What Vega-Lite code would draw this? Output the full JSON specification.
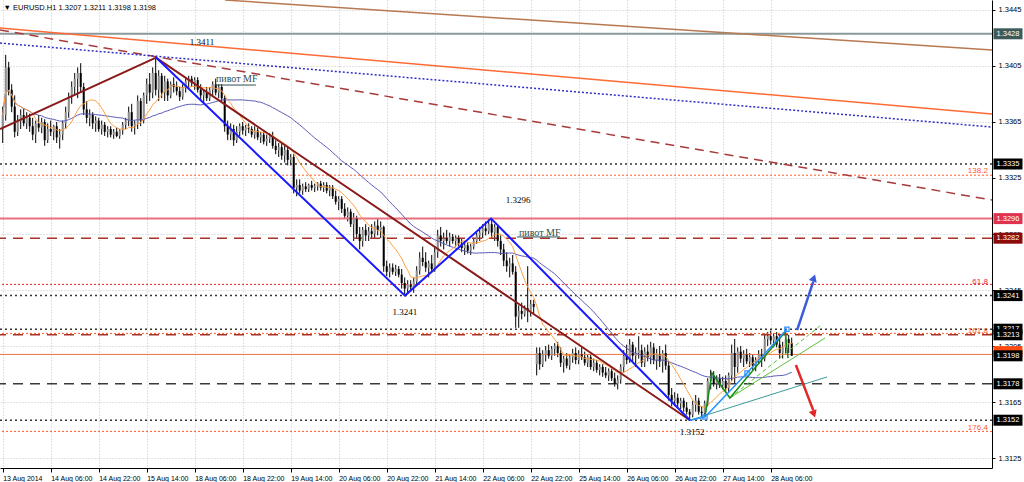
{
"$schema": "https://vega.github.io/schema/vega-lite/v6.json",
"width": 992, "height": 468,
"autosize": {"type": "none"},
"padding": {"left": 0, "top": 0, "right": 32, "bottom": 14},
"background": "white",
"view": {"stroke": null},
"config": {"font": "Liberation Sans"},
"datasets": {
"candles": [
{"i":0,"o":1.3360,"h":1.3376,"l":1.3350,"c":1.3370},
{"i":1,"o":1.3370,"h":1.3413,"l":1.3366,"c":1.3404},
{"i":2,"o":1.3404,"h":1.3408,"l":1.3384,"c":1.3388},
{"i":3,"o":1.3388,"h":1.3392,"l":1.3372,"c":1.3376},
{"i":4,"o":1.3376,"h":1.3384,"l":1.3354,"c":1.3358},
{"i":5,"o":1.3358,"h":1.3370,"l":1.3355,"c":1.3366},
{"i":6,"o":1.3366,"h":1.3374,"l":1.3360,"c":1.3370},
{"i":7,"o":1.3370,"h":1.3375,"l":1.3362,"c":1.3364},
{"i":8,"o":1.3364,"h":1.3372,"l":1.3360,"c":1.3368},
{"i":9,"o":1.3368,"h":1.3371,"l":1.3358,"c":1.3362},
{"i":10,"o":1.3362,"h":1.3368,"l":1.3352,"c":1.3356},
{"i":11,"o":1.3356,"h":1.3366,"l":1.3350,"c":1.3364},
{"i":12,"o":1.3364,"h":1.3370,"l":1.3358,"c":1.3361},
{"i":13,"o":1.3361,"h":1.3368,"l":1.3357,"c":1.3365},
{"i":14,"o":1.3365,"h":1.3367,"l":1.3348,"c":1.3352},
{"i":15,"o":1.3352,"h":1.3364,"l":1.3350,"c":1.3360},
{"i":16,"o":1.3360,"h":1.3366,"l":1.3355,"c":1.3358},
{"i":17,"o":1.3358,"h":1.3363,"l":1.3352,"c":1.3362},
{"i":18,"o":1.3362,"h":1.3365,"l":1.3350,"c":1.3354},
{"i":19,"o":1.3354,"h":1.3360,"l":1.3346,"c":1.3356},
{"i":20,"o":1.3356,"h":1.3366,"l":1.3352,"c":1.3364},
{"i":21,"o":1.3364,"h":1.3376,"l":1.3360,"c":1.3372},
{"i":22,"o":1.3372,"h":1.3386,"l":1.3368,"c":1.3383},
{"i":23,"o":1.3383,"h":1.3394,"l":1.3378,"c":1.3390},
{"i":24,"o":1.3390,"h":1.3400,"l":1.3384,"c":1.3396},
{"i":25,"o":1.3396,"h":1.3404,"l":1.3382,"c":1.3400},
{"i":26,"o":1.3400,"h":1.3407,"l":1.3386,"c":1.3390},
{"i":27,"o":1.3390,"h":1.3393,"l":1.3370,"c":1.3374},
{"i":28,"o":1.3374,"h":1.3380,"l":1.3364,"c":1.3368},
{"i":29,"o":1.3368,"h":1.3374,"l":1.3362,"c":1.3370},
{"i":30,"o":1.3370,"h":1.3372,"l":1.3360,"c":1.3364},
{"i":31,"o":1.3364,"h":1.3369,"l":1.3358,"c":1.3366},
{"i":32,"o":1.3366,"h":1.3368,"l":1.3358,"c":1.3360},
{"i":33,"o":1.3360,"h":1.3366,"l":1.3356,"c":1.3363},
{"i":34,"o":1.3363,"h":1.3365,"l":1.3355,"c":1.3358},
{"i":35,"o":1.3358,"h":1.3362,"l":1.3354,"c":1.3360},
{"i":36,"o":1.3360,"h":1.3362,"l":1.3354,"c":1.3356},
{"i":37,"o":1.3356,"h":1.3360,"l":1.3353,"c":1.3358},
{"i":38,"o":1.3358,"h":1.3361,"l":1.3354,"c":1.3355},
{"i":39,"o":1.3355,"h":1.3360,"l":1.3353,"c":1.3359},
{"i":40,"o":1.3359,"h":1.3365,"l":1.3356,"c":1.3363},
{"i":41,"o":1.3363,"h":1.3368,"l":1.3360,"c":1.3366},
{"i":42,"o":1.3366,"h":1.3376,"l":1.3362,"c":1.3372},
{"i":43,"o":1.3372,"h":1.3378,"l":1.3358,"c":1.3362},
{"i":44,"o":1.3362,"h":1.3366,"l":1.3356,"c":1.3364},
{"i":45,"o":1.3364,"h":1.3384,"l":1.3360,"c":1.3380},
{"i":46,"o":1.3380,"h":1.3382,"l":1.3362,"c":1.3366},
{"i":47,"o":1.3366,"h":1.3386,"l":1.3364,"c":1.3384},
{"i":48,"o":1.3384,"h":1.3396,"l":1.3378,"c":1.3392},
{"i":49,"o":1.3392,"h":1.3400,"l":1.3380,"c":1.3386},
{"i":50,"o":1.3386,"h":1.3404,"l":1.3382,"c":1.3400},
{"i":51,"o":1.3400,"h":1.3411,"l":1.3384,"c":1.3388},
{"i":52,"o":1.3388,"h":1.3402,"l":1.3380,"c":1.3398},
{"i":53,"o":1.3398,"h":1.3400,"l":1.3382,"c":1.3386},
{"i":54,"o":1.3386,"h":1.3398,"l":1.3380,"c":1.3394},
{"i":55,"o":1.3394,"h":1.3396,"l":1.3380,"c":1.3384},
{"i":56,"o":1.3384,"h":1.3394,"l":1.3382,"c":1.3392},
{"i":57,"o":1.3392,"h":1.3397,"l":1.3386,"c":1.3390},
{"i":58,"o":1.3390,"h":1.3394,"l":1.3384,"c":1.3387},
{"i":59,"o":1.3387,"h":1.3390,"l":1.3380,"c":1.3383},
{"i":60,"o":1.3383,"h":1.3392,"l":1.3381,"c":1.3390},
{"i":61,"o":1.3390,"h":1.3396,"l":1.3386,"c":1.3394},
{"i":62,"o":1.3394,"h":1.3398,"l":1.3389,"c":1.3396},
{"i":63,"o":1.3396,"h":1.3398,"l":1.3390,"c":1.3393},
{"i":64,"o":1.3393,"h":1.3397,"l":1.3388,"c":1.3395},
{"i":65,"o":1.3395,"h":1.3397,"l":1.3386,"c":1.3388},
{"i":66,"o":1.3388,"h":1.3392,"l":1.3380,"c":1.3384},
{"i":67,"o":1.3384,"h":1.3388,"l":1.3378,"c":1.3386},
{"i":68,"o":1.3386,"h":1.3390,"l":1.3380,"c":1.3382},
{"i":69,"o":1.3382,"h":1.3390,"l":1.3380,"c":1.3388},
{"i":70,"o":1.3388,"h":1.3394,"l":1.3384,"c":1.3392},
{"i":71,"o":1.3392,"h":1.3396,"l":1.3384,"c":1.3386},
{"i":72,"o":1.3386,"h":1.3392,"l":1.3382,"c":1.3390},
{"i":73,"o":1.3390,"h":1.3392,"l":1.3380,"c":1.3382},
{"i":74,"o":1.3382,"h":1.3384,"l":1.3358,"c":1.3362},
{"i":75,"o":1.3362,"h":1.3366,"l":1.3352,"c":1.3356},
{"i":76,"o":1.3356,"h":1.3364,"l":1.3352,"c":1.3360},
{"i":77,"o":1.3360,"h":1.3363,"l":1.3348,"c":1.3352},
{"i":78,"o":1.3352,"h":1.3362,"l":1.3350,"c":1.3358},
{"i":79,"o":1.3358,"h":1.3364,"l":1.3355,"c":1.3362},
{"i":80,"o":1.3362,"h":1.3365,"l":1.3356,"c":1.3359},
{"i":81,"o":1.3359,"h":1.3363,"l":1.3355,"c":1.3361},
{"i":82,"o":1.3361,"h":1.3364,"l":1.3357,"c":1.3360},
{"i":83,"o":1.3360,"h":1.3362,"l":1.3354,"c":1.3356},
{"i":84,"o":1.3356,"h":1.3362,"l":1.3353,"c":1.3359},
{"i":85,"o":1.3359,"h":1.3361,"l":1.3352,"c":1.3354},
{"i":86,"o":1.3354,"h":1.3358,"l":1.3350,"c":1.3356},
{"i":87,"o":1.3356,"h":1.3358,"l":1.3349,"c":1.3351},
{"i":88,"o":1.3351,"h":1.3356,"l":1.3348,"c":1.3353},
{"i":89,"o":1.3353,"h":1.3357,"l":1.3350,"c":1.3355},
{"i":90,"o":1.3355,"h":1.3358,"l":1.3346,"c":1.3348},
{"i":91,"o":1.3348,"h":1.3352,"l":1.3342,"c":1.3345},
{"i":92,"o":1.3345,"h":1.3350,"l":1.3340,"c":1.3347},
{"i":93,"o":1.3347,"h":1.3350,"l":1.3338,"c":1.3341},
{"i":94,"o":1.3341,"h":1.3348,"l":1.3336,"c":1.3345},
{"i":95,"o":1.3345,"h":1.3347,"l":1.3334,"c":1.3338},
{"i":96,"o":1.3338,"h":1.3342,"l":1.3334,"c":1.3340},
{"i":97,"o":1.3340,"h":1.3342,"l":1.3314,"c":1.3318},
{"i":98,"o":1.3318,"h":1.3324,"l":1.3312,"c":1.3320},
{"i":99,"o":1.3320,"h":1.3324,"l":1.3314,"c":1.3316},
{"i":100,"o":1.3316,"h":1.3321,"l":1.3313,"c":1.3319},
{"i":101,"o":1.3319,"h":1.3322,"l":1.3315,"c":1.3317},
{"i":102,"o":1.3317,"h":1.3321,"l":1.3315,"c":1.3320},
{"i":103,"o":1.3320,"h":1.3323,"l":1.3316,"c":1.3318},
{"i":104,"o":1.3318,"h":1.3321,"l":1.3315,"c":1.3319},
{"i":105,"o":1.3319,"h":1.3322,"l":1.3316,"c":1.3321},
{"i":106,"o":1.3321,"h":1.3323,"l":1.3316,"c":1.3318},
{"i":107,"o":1.3318,"h":1.3322,"l":1.3315,"c":1.3320},
{"i":108,"o":1.3320,"h":1.3322,"l":1.3314,"c":1.3316},
{"i":109,"o":1.3316,"h":1.3320,"l":1.3312,"c":1.3318},
{"i":110,"o":1.3318,"h":1.3320,"l":1.3310,"c":1.3312},
{"i":111,"o":1.3312,"h":1.3316,"l":1.3306,"c":1.3308},
{"i":112,"o":1.3308,"h":1.3312,"l":1.3302,"c":1.3310},
{"i":113,"o":1.3310,"h":1.3312,"l":1.3300,"c":1.3303},
{"i":114,"o":1.3303,"h":1.3307,"l":1.3296,"c":1.3298},
{"i":115,"o":1.3298,"h":1.3304,"l":1.3294,"c":1.3301},
{"i":116,"o":1.3301,"h":1.3303,"l":1.3290,"c":1.3292},
{"i":117,"o":1.3292,"h":1.3300,"l":1.3280,"c":1.3296},
{"i":118,"o":1.3296,"h":1.3298,"l":1.3282,"c":1.3285},
{"i":119,"o":1.3285,"h":1.3290,"l":1.3274,"c":1.3280},
{"i":120,"o":1.3280,"h":1.3290,"l":1.3276,"c":1.3288},
{"i":121,"o":1.3288,"h":1.3292,"l":1.3280,"c":1.3284},
{"i":122,"o":1.3284,"h":1.3290,"l":1.3280,"c":1.3287},
{"i":123,"o":1.3287,"h":1.3292,"l":1.3282,"c":1.3285},
{"i":124,"o":1.3285,"h":1.3294,"l":1.3282,"c":1.3291},
{"i":125,"o":1.3291,"h":1.3296,"l":1.3284,"c":1.3288},
{"i":126,"o":1.3288,"h":1.3294,"l":1.3282,"c":1.3290},
{"i":127,"o":1.3290,"h":1.3291,"l":1.3258,"c":1.3262},
{"i":128,"o":1.3262,"h":1.3266,"l":1.3255,"c":1.3258},
{"i":129,"o":1.3258,"h":1.3264,"l":1.3254,"c":1.3261},
{"i":130,"o":1.3261,"h":1.3264,"l":1.3256,"c":1.3258},
{"i":131,"o":1.3258,"h":1.3263,"l":1.3255,"c":1.3260},
{"i":132,"o":1.3260,"h":1.3262,"l":1.3254,"c":1.3256},
{"i":133,"o":1.3256,"h":1.3260,"l":1.3246,"c":1.3250},
{"i":134,"o":1.3250,"h":1.3254,"l":1.3241,"c":1.3246},
{"i":135,"o":1.3246,"h":1.3252,"l":1.3242,"c":1.3249},
{"i":136,"o":1.3249,"h":1.3252,"l":1.3244,"c":1.3247},
{"i":137,"o":1.3247,"h":1.3254,"l":1.3243,"c":1.3251},
{"i":138,"o":1.3251,"h":1.3262,"l":1.3248,"c":1.3259},
{"i":139,"o":1.3259,"h":1.3272,"l":1.3256,"c":1.3268},
{"i":140,"o":1.3268,"h":1.3276,"l":1.3262,"c":1.3265},
{"i":141,"o":1.3265,"h":1.3272,"l":1.3258,"c":1.3261},
{"i":142,"o":1.3261,"h":1.3266,"l":1.3254,"c":1.3264},
{"i":143,"o":1.3264,"h":1.3270,"l":1.3258,"c":1.3260},
{"i":144,"o":1.3260,"h":1.3276,"l":1.3258,"c":1.3272},
{"i":145,"o":1.3272,"h":1.3288,"l":1.3268,"c":1.3284},
{"i":146,"o":1.3284,"h":1.3290,"l":1.3276,"c":1.3280},
{"i":147,"o":1.3280,"h":1.3286,"l":1.3274,"c":1.3282},
{"i":148,"o":1.3282,"h":1.3288,"l":1.3278,"c":1.3280},
{"i":149,"o":1.3280,"h":1.3286,"l":1.3276,"c":1.3283},
{"i":150,"o":1.3283,"h":1.3285,"l":1.3278,"c":1.3280},
{"i":151,"o":1.3280,"h":1.3284,"l":1.3276,"c":1.3282},
{"i":152,"o":1.3282,"h":1.3284,"l":1.3276,"c":1.3278},
{"i":153,"o":1.3278,"h":1.3282,"l":1.3272,"c":1.3275},
{"i":154,"o":1.3275,"h":1.3280,"l":1.3270,"c":1.3277},
{"i":155,"o":1.3277,"h":1.3279,"l":1.3271,"c":1.3273},
{"i":156,"o":1.3273,"h":1.3278,"l":1.3270,"c":1.3276},
{"i":157,"o":1.3276,"h":1.3282,"l":1.3274,"c":1.3280},
{"i":158,"o":1.3280,"h":1.3286,"l":1.3278,"c":1.3284},
{"i":159,"o":1.3284,"h":1.3290,"l":1.3280,"c":1.3286},
{"i":160,"o":1.3286,"h":1.3292,"l":1.3282,"c":1.3289},
{"i":161,"o":1.3289,"h":1.3294,"l":1.3284,"c":1.3287},
{"i":162,"o":1.3287,"h":1.3296,"l":1.3285,"c":1.3292},
{"i":163,"o":1.3292,"h":1.3296,"l":1.3282,"c":1.3286},
{"i":164,"o":1.3286,"h":1.3292,"l":1.3280,"c":1.3290},
{"i":165,"o":1.3290,"h":1.3292,"l":1.3276,"c":1.3280},
{"i":166,"o":1.3280,"h":1.3284,"l":1.3270,"c":1.3274},
{"i":167,"o":1.3274,"h":1.3278,"l":1.3262,"c":1.3266},
{"i":168,"o":1.3266,"h":1.3272,"l":1.3258,"c":1.3262},
{"i":169,"o":1.3262,"h":1.3268,"l":1.3254,"c":1.3264},
{"i":170,"o":1.3264,"h":1.3270,"l":1.3256,"c":1.3258},
{"i":171,"o":1.3258,"h":1.3262,"l":1.3218,"c":1.3226},
{"i":172,"o":1.3226,"h":1.3234,"l":1.3218,"c":1.3230},
{"i":173,"o":1.3230,"h":1.3236,"l":1.3224,"c":1.3228},
{"i":174,"o":1.3228,"h":1.3234,"l":1.3226,"c":1.3232},
{"i":175,"o":1.3232,"h":1.3262,"l":1.3222,"c":1.3230},
{"i":176,"o":1.3230,"h":1.3238,"l":1.3226,"c":1.3235},
{"i":177,"o":1.3235,"h":1.3238,"l":1.3228,"c":1.3233},
{"i":178,"o":1.3192,"h":1.3204,"l":1.3184,"c":1.3200},
{"i":179,"o":1.3200,"h":1.3204,"l":1.3188,"c":1.3192},
{"i":180,"o":1.3192,"h":1.3202,"l":1.3190,"c":1.3199},
{"i":181,"o":1.3199,"h":1.3205,"l":1.3194,"c":1.3202},
{"i":182,"o":1.3202,"h":1.3206,"l":1.3196,"c":1.3198},
{"i":183,"o":1.3198,"h":1.3205,"l":1.3195,"c":1.3203},
{"i":184,"o":1.3203,"h":1.3207,"l":1.3198,"c":1.3205},
{"i":185,"o":1.3205,"h":1.3208,"l":1.3197,"c":1.3200},
{"i":186,"o":1.3200,"h":1.3204,"l":1.3190,"c":1.3193},
{"i":187,"o":1.3193,"h":1.3198,"l":1.3186,"c":1.3196},
{"i":188,"o":1.3196,"h":1.3200,"l":1.3189,"c":1.3191},
{"i":189,"o":1.3191,"h":1.3199,"l":1.3188,"c":1.3197},
{"i":190,"o":1.3197,"h":1.3203,"l":1.3193,"c":1.3200},
{"i":191,"o":1.3200,"h":1.3204,"l":1.3192,"c":1.3195},
{"i":192,"o":1.3195,"h":1.3202,"l":1.3192,"c":1.3199},
{"i":193,"o":1.3199,"h":1.3204,"l":1.3195,"c":1.3197},
{"i":194,"o":1.3197,"h":1.3201,"l":1.3191,"c":1.3193},
{"i":195,"o":1.3193,"h":1.3199,"l":1.3190,"c":1.3197},
{"i":196,"o":1.3197,"h":1.3199,"l":1.3188,"c":1.3190},
{"i":197,"o":1.3190,"h":1.3196,"l":1.3187,"c":1.3193},
{"i":198,"o":1.3193,"h":1.3195,"l":1.3186,"c":1.3188},
{"i":199,"o":1.3188,"h":1.3192,"l":1.3184,"c":1.3190},
{"i":200,"o":1.3190,"h":1.3192,"l":1.3183,"c":1.3186},
{"i":201,"o":1.3186,"h":1.3190,"l":1.3182,"c":1.3184},
{"i":202,"o":1.3184,"h":1.3189,"l":1.3180,"c":1.3187},
{"i":203,"o":1.3187,"h":1.3189,"l":1.3180,"c":1.3182},
{"i":204,"o":1.3182,"h":1.3186,"l":1.3176,"c":1.3178},
{"i":205,"o":1.3178,"h":1.3184,"l":1.3174,"c":1.3181},
{"i":206,"o":1.3181,"h":1.3192,"l":1.3178,"c":1.3190},
{"i":207,"o":1.3190,"h":1.3202,"l":1.3186,"c":1.3198},
{"i":208,"o":1.3198,"h":1.3206,"l":1.3192,"c":1.3195},
{"i":209,"o":1.3195,"h":1.3210,"l":1.3193,"c":1.3206},
{"i":210,"o":1.3206,"h":1.3208,"l":1.3194,"c":1.3198},
{"i":211,"o":1.3198,"h":1.3204,"l":1.3190,"c":1.3200},
{"i":212,"o":1.3200,"h":1.3212,"l":1.3196,"c":1.3202},
{"i":213,"o":1.3202,"h":1.3206,"l":1.3190,"c":1.3193},
{"i":214,"o":1.3193,"h":1.3204,"l":1.3190,"c":1.3201},
{"i":215,"o":1.3201,"h":1.3206,"l":1.3194,"c":1.3197},
{"i":216,"o":1.3197,"h":1.3208,"l":1.3192,"c":1.3204},
{"i":217,"o":1.3204,"h":1.3207,"l":1.3192,"c":1.3195},
{"i":218,"o":1.3195,"h":1.3203,"l":1.3188,"c":1.3199},
{"i":219,"o":1.3199,"h":1.3205,"l":1.3190,"c":1.3194},
{"i":220,"o":1.3194,"h":1.3202,"l":1.3186,"c":1.3200},
{"i":221,"o":1.3200,"h":1.3206,"l":1.3188,"c":1.3191},
{"i":222,"o":1.3191,"h":1.3194,"l":1.3166,"c":1.3170},
{"i":223,"o":1.3170,"h":1.3175,"l":1.3162,"c":1.3166},
{"i":224,"o":1.3166,"h":1.3172,"l":1.3162,"c":1.3168},
{"i":225,"o":1.3168,"h":1.3171,"l":1.3161,"c":1.3164},
{"i":226,"o":1.3164,"h":1.3168,"l":1.3160,"c":1.3166},
{"i":227,"o":1.3166,"h":1.3168,"l":1.3158,"c":1.3161},
{"i":228,"o":1.3161,"h":1.3165,"l":1.3156,"c":1.3158},
{"i":229,"o":1.3158,"h":1.3160,"l":1.3152,"c":1.3156},
{"i":230,"o":1.3156,"h":1.3166,"l":1.3154,"c":1.3163},
{"i":231,"o":1.3163,"h":1.3170,"l":1.3158,"c":1.3166},
{"i":232,"o":1.3166,"h":1.3168,"l":1.3156,"c":1.3158},
{"i":233,"o":1.3158,"h":1.3162,"l":1.3154,"c":1.3157},
{"i":234,"o":1.3157,"h":1.3166,"l":1.3155,"c":1.3164},
{"i":235,"o":1.3164,"h":1.3182,"l":1.3162,"c":1.3180},
{"i":236,"o":1.3180,"h":1.3188,"l":1.3174,"c":1.3184},
{"i":237,"o":1.3184,"h":1.3187,"l":1.3176,"c":1.3178},
{"i":238,"o":1.3178,"h":1.3184,"l":1.3174,"c":1.3182},
{"i":239,"o":1.3182,"h":1.3185,"l":1.3175,"c":1.3177},
{"i":240,"o":1.3177,"h":1.3183,"l":1.3174,"c":1.3180},
{"i":241,"o":1.3180,"h":1.3184,"l":1.3172,"c":1.3175},
{"i":242,"o":1.3175,"h":1.3186,"l":1.3172,"c":1.3184},
{"i":243,"o":1.3184,"h":1.3206,"l":1.3180,"c":1.3200},
{"i":244,"o":1.3200,"h":1.3210,"l":1.3178,"c":1.3190},
{"i":245,"o":1.3190,"h":1.3204,"l":1.3186,"c":1.3201},
{"i":246,"o":1.3201,"h":1.3205,"l":1.3193,"c":1.3196},
{"i":247,"o":1.3196,"h":1.3202,"l":1.3190,"c":1.3199},
{"i":248,"o":1.3199,"h":1.3203,"l":1.3192,"c":1.3194},
{"i":249,"o":1.3194,"h":1.3200,"l":1.3190,"c":1.3197},
{"i":250,"o":1.3197,"h":1.3199,"l":1.3188,"c":1.3191},
{"i":251,"o":1.3191,"h":1.3197,"l":1.3187,"c":1.3195},
{"i":252,"o":1.3195,"h":1.3202,"l":1.3192,"c":1.3199},
{"i":253,"o":1.3199,"h":1.3203,"l":1.3190,"c":1.3196},
{"i":254,"o":1.3196,"h":1.3214,"l":1.3194,"c":1.3210},
{"i":255,"o":1.3210,"h":1.3215,"l":1.3205,"c":1.3212},
{"i":256,"o":1.3212,"h":1.3216,"l":1.3206,"c":1.3209},
{"i":257,"o":1.3209,"h":1.3214,"l":1.3204,"c":1.3212},
{"i":258,"o":1.3212,"h":1.3215,"l":1.3204,"c":1.3206},
{"i":259,"o":1.3206,"h":1.3213,"l":1.3196,"c":1.3200},
{"i":260,"o":1.3200,"h":1.3208,"l":1.3196,"c":1.3204},
{"i":261,"o":1.3204,"h":1.3217,"l":1.3200,"c":1.3210},
{"i":262,"o":1.3210,"h":1.3213,"l":1.3200,"c":1.3207},
{"i":263,"o":1.3207,"h":1.3211,"l":1.3198,"c":1.3198}
]
},
"layer": [
{
"data": {"name": "candles"},
"mark": {"type": "rule", "color": "#000000", "strokeWidth": 1},
"encoding": {
"x": {"field": "i", "type": "quantitative", "title": null,
"scale": {"domain": [-0.9, 329.77], "nice": false, "zero": false},
"axis": {"orient": "bottom", "values": [0,16,32,48,64,80,96,112,128,144,160,176,192,208,224,240,256],
"labelExpr": "['13 Aug 2014','14 Aug 06:00','14 Aug 22:00','15 Aug 14:00','18 Aug 06:00','18 Aug 22:00','19 Aug 14:00','20 Aug 06:00','20 Aug 22:00','21 Aug 14:00','22 Aug 06:00','22 Aug 22:00','25 Aug 14:00','26 Aug 06:00','26 Aug 22:00','27 Aug 14:00','28 Aug 06:00'][round(datum.value/16)]",
"labelAlign": "left", "labelPadding": 2, "labelFontSize": 7, "labelColor": "#000000", "labelFlush": false, "labelOverlap": false,
"tickSize": 4, "tickColor": "#000000", "domainColor": "#000000", "domainWidth": 1,
"grid": true, "gridColor": "#c4c4c4", "gridDash": [1, 2], "gridWidth": 1}},
"y": {"field": "l", "type": "quantitative", "title": null,
"scale": {"domain": [1.311786, 1.345214], "nice": false, "zero": false},
"axis": {"orient": "right", "values": [1.3125,1.3145,1.3165,1.3185,1.3205,1.3225,1.3245,1.3265,1.3285,1.3305,1.3325,1.3345,1.3365,1.3385,1.3405,1.3425,1.3445],
"format": ".4f", "labelFontSize": 7.5, "labelColor": "#000000", "labelPadding": 3, "labelFlush": false, "labelOverlap": false,
"tickSize": 3, "tickColor": "#000000", "domainColor": "#000000", "domainWidth": 1,
"grid": true, "gridColor": "#c4c4c4", "gridDash": [1, 2], "gridWidth": 1}},
"y2": {"field": "h"}
}
},
{
"data": {"values": [{"p": 1.3428}]},
"mark": {"type": "rule", "color": "#8a9a9a", "strokeWidth": 2},
"encoding": {"y": {"field": "p", "type": "quantitative", "title": null}}
},
{
"data": {"values": [{"p": 1.3335}, {"p": 1.3241}, {"p": 1.3217}, {"p": 1.3152}]},
"mark": {"type": "rule", "color": "#333333", "strokeWidth": 1.5, "strokeDash": [2, 3]},
"encoding": {"y": {"field": "p", "type": "quantitative", "title": null}}
},
{
"data": {"values": [{"p": 1.3327}, {"p": 1.3214}, {"p": 1.3144}]},
"mark": {"type": "rule", "color": "#ff5a28", "strokeWidth": 1, "strokeDash": [2, 2]},
"encoding": {"y": {"field": "p", "type": "quantitative", "title": null}}
},
{
"data": {"values": [{"p": 1.3249}]},
"mark": {"type": "rule", "color": "#e8202a", "strokeWidth": 1, "strokeDash": [2, 2]},
"encoding": {"y": {"field": "p", "type": "quantitative", "title": null}}
},
{
"data": {"values": [{"p": 1.3296}]},
"mark": {"type": "rule", "color": "#e8707c", "strokeWidth": 2},
"encoding": {"y": {"field": "p", "type": "quantitative", "title": null}}
},
{
"data": {"values": [{"p": 1.3282}, {"p": 1.3213}]},
"mark": {"type": "rule", "color": "#a83228", "strokeWidth": 1.5, "strokeDash": [10, 7]},
"encoding": {"y": {"field": "p", "type": "quantitative", "title": null}}
},
{
"data": {"values": [{"p": 1.3178}]},
"mark": {"type": "rule", "color": "#3a3a3a", "strokeWidth": 1.5, "strokeDash": [10, 7]},
"encoding": {"y": {"field": "p", "type": "quantitative", "title": null}}
},
{
"data": {"values": [{"p": 1.3199}]},
"mark": {"type": "rule", "color": "#f07040", "strokeWidth": 1},
"encoding": {"y": {"field": "p", "type": "quantitative", "title": null}}
},
{
"data": {"values": [{"i": 74.1, "p": 1.34521}, {"i": 329.77, "p": 1.34164}]},
"mark": {"type": "line", "color": "#b87850", "strokeWidth": 1.5, "clip": true},
"encoding": {"x": {"field": "i", "type": "quantitative", "title": null}, "y": {"field": "p", "type": "quantitative", "title": null}}
},
{
"data": {"values": [{"i": -0.9, "p": 1.34321}, {"i": 329.77, "p": 1.33707}]},
"mark": {"type": "line", "color": "#ff6a35", "strokeWidth": 1.5, "clip": true},
"encoding": {"x": {"field": "i", "type": "quantitative", "title": null}, "y": {"field": "p", "type": "quantitative", "title": null}}
},
{
"data": {"values": [{"i": -0.9, "p": 1.34307}, {"i": 329.77, "p": 1.33093}]},
"mark": {"type": "line", "color": "#a83a3a", "strokeWidth": 1.5, "strokeDash": [9, 6], "clip": true},
"encoding": {"x": {"field": "i", "type": "quantitative", "title": null}, "y": {"field": "p", "type": "quantitative", "title": null}}
},
{
"data": {"values": [{"i": -0.9, "p": 1.34214}, {"i": 329.77, "p": 1.33614}]},
"mark": {"type": "line", "color": "#2f2fc8", "strokeWidth": 1.5, "strokeDash": [2, 2], "clip": true},
"encoding": {"x": {"field": "i", "type": "quantitative", "title": null}, "y": {"field": "p", "type": "quantitative", "title": null}}
},
{
"data": {"name": "candles"},
"mark": {"type": "rule", "strokeWidth": 2},
"encoding": {
"x": {"field": "i", "type": "quantitative", "title": null},
"y": {"field": "o", "type": "quantitative", "title": null},
"y2": {"field": "c"},
"color": {"condition": {"test": "datum.c >= datum.o", "value": "#8c8c8c"}, "value": "#000000"}
}
},
{
"data": {"name": "candles"},
"transform": [{"window": [{"op": "mean", "field": "c", "as": "ma"}], "frame": [-39, 0], "sort": [{"field": "i"}]}],
"mark": {"type": "line", "color": "#5a5ab8", "strokeWidth": 1},
"encoding": {"x": {"field": "i", "type": "quantitative", "title": null}, "y": {"field": "ma", "type": "quantitative", "title": null}}
},
{
"data": {"name": "candles"},
"transform": [{"window": [{"op": "mean", "field": "c", "as": "ma"}], "frame": [-9, 0], "sort": [{"field": "i"}]}],
"mark": {"type": "line", "color": "#ffa040", "strokeWidth": 1},
"encoding": {"x": {"field": "i", "type": "quantitative", "title": null}, "y": {"field": "ma", "type": "quantitative", "title": null}}
},
{
"data": {"values": [{"i": -0.9, "p": 1.3360}, {"i": 51.1, "p": 1.3411}, {"i": 229.1, "p": 1.3152}]},
"mark": {"type": "line", "color": "#8b1a1a", "strokeWidth": 2},
"encoding": {"x": {"field": "i", "type": "quantitative", "title": null}, "y": {"field": "p", "type": "quantitative", "title": null}}
},
{
"data": {"values": [{"i": 51.1, "p": 1.3411}, {"i": 134.1, "p": 1.3241}, {"i": 162.8, "p": 1.3296}, {"i": 229.1, "p": 1.3152}]},
"mark": {"type": "line", "color": "#1a1aff", "strokeWidth": 2},
"encoding": {"x": {"field": "i", "type": "quantitative", "title": null}, "y": {"field": "p", "type": "quantitative", "title": null}}
},
{
"data": {"values": [{"i": 229.1, "p": 1.3152}, {"i": 274.8, "p": 1.31829}]},
"mark": {"type": "line", "strokeWidth": 1, "color": "#3a9a9a", "clip": true},
"encoding": {"x": {"field": "i", "type": "quantitative", "title": null}, "y": {"field": "p", "type": "quantitative", "title": null}}
},
{
"data": {"values": [{"i": 242.4, "p": 1.31679}, {"i": 274.1, "p": 1.32107}]},
"mark": {"type": "line", "strokeWidth": 1, "color": "#5cbf3c", "clip": true},
"encoding": {"x": {"field": "i", "type": "quantitative", "title": null}, "y": {"field": "p", "type": "quantitative", "title": null}}
},
{
"data": {"values": [{"i": 242.4, "p": 1.31679}, {"i": 272.4, "p": 1.32193}]},
"mark": {"type": "line", "strokeWidth": 1, "color": "#5cbf3c", "strokeDash": [4, 3], "clip": true},
"encoding": {"x": {"field": "i", "type": "quantitative", "title": null}, "y": {"field": "p", "type": "quantitative", "title": null}}
},
{
"data": {"values": [{"i": 234.1, "p": 1.31543}, {"i": 236.4, "p": 1.31857}, {"i": 242.4, "p": 1.31679}, {"i": 260.8, "p": 1.3215}, {"i": 261.8, "p": 1.31964}]},
"mark": {"type": "line", "color": "#108a10", "strokeWidth": 1.5},
"encoding": {"x": {"field": "i", "type": "quantitative", "title": null}, "y": {"field": "p", "type": "quantitative", "title": null}}
},
{
"data": {"values": [{"i": 229.1, "p": 1.3152}, {"i": 234.1, "p": 1.31543}, {"i": 248.1, "p": 1.31857}, {"i": 261.4, "p": 1.3217}]},
"layer": [
{"mark": {"type": "line", "color": "#2a90ff", "strokeWidth": 1.5}},
{"transform": [{"filter": "datum.i > 230"}], "mark": {"type": "point", "shape": "square", "size": 18, "filled": false, "color": "#2a90ff", "strokeWidth": 1.2, "opacity": 1}}
],
"encoding": {"x": {"field": "i", "type": "quantitative", "title": null}, "y": {"field": "p", "type": "quantitative", "title": null}}
},
{
"data": {"values": [{"i": 264.8, "p": 1.32164}, {"i": 270.2, "p": 1.32510}]},
"mark": {"type": "line", "color": "#3c5adc", "strokeWidth": 2.5},
"encoding": {"x": {"field": "i", "type": "quantitative", "title": null}, "y": {"field": "p", "type": "quantitative", "title": null}}
},
{
"data": {"values": [{"i": 270.4, "p": 1.32536}]},
"mark": {"type": "point", "shape": "triangle-up", "size": 70, "filled": true, "color": "#3c5adc", "angle": 18, "opacity": 1},
"encoding": {"x": {"field": "i", "type": "quantitative", "title": null}, "y": {"field": "p", "type": "quantitative", "title": null}}
},
{
"data": {"values": [{"i": 264.4, "p": 1.31914}, {"i": 270.2, "p": 1.31590}]},
"mark": {"type": "line", "color": "#e02828", "strokeWidth": 2.5},
"encoding": {"x": {"field": "i", "type": "quantitative", "title": null}, "y": {"field": "p", "type": "quantitative", "title": null}}
},
{
"data": {"values": [{"i": 270.4, "p": 1.31564}]},
"mark": {"type": "point", "shape": "triangle-down", "size": 70, "filled": true, "color": "#e02828", "angle": -20, "opacity": 1},
"encoding": {"x": {"field": "i", "type": "quantitative", "title": null}, "y": {"field": "p", "type": "quantitative", "title": null}}
},
{
"data": {"values": [{"i": 70.8, "p": 1.33914, "s": "a"}, {"i": 84.4, "p": 1.33914, "s": "a"}, {"i": 171.4, "p": 1.32829, "s": "b"}, {"i": 185.8, "p": 1.32829, "s": "b"}]},
"mark": {"type": "line", "color": "#2f4f4f", "strokeWidth": 1},
"encoding": {"x": {"field": "i", "type": "quantitative", "title": null}, "y": {"field": "p", "type": "quantitative", "title": null}, "detail": {"field": "s"}}
},
{
"data": {"values": [{"i": 66.43, "p": 1.34221, "t": "1.3411"}, {"i": 171.77, "p": 1.33093, "t": "1.3296"}, {"i": 134.1, "p": 1.32293, "t": "1.3241"}, {"i": 229.77, "p": 1.31436, "t": "1.3152"}]},
"mark": {"type": "text", "font": "Liberation Serif", "fontSize": 9, "color": "#000000", "align": "center", "baseline": "middle"},
"encoding": {"x": {"field": "i", "type": "quantitative", "title": null}, "y": {"field": "p", "type": "quantitative", "title": null}, "text": {"field": "t"}}
},
{
"data": {"values": [{"i": 71.1, "p": 1.33957, "t": "пивот MF"}, {"i": 172.1, "p": 1.32857, "t": "пивот MF"}]},
"mark": {"type": "text", "font": "Liberation Serif", "fontSize": 10, "color": "#2f4f4f", "align": "left", "baseline": "middle"},
"encoding": {"x": {"field": "i", "type": "quantitative", "title": null}, "y": {"field": "p", "type": "quantitative", "title": null}, "text": {"field": "t"}}
},
{
"data": {"values": [{"p": 1.33300, "t": "138.2"}, {"p": 1.32157, "t": "161.8"}, {"p": 1.31464, "t": "176.4"}]},
"mark": {"type": "text", "fontSize": 8, "color": "#ff5a28", "align": "right", "baseline": "middle"},
"encoding": {"x": {"datum": 328.4}, "y": {"field": "p", "type": "quantitative", "title": null}, "text": {"field": "t"}}
},
{
"data": {"values": [{"p": 1.32507, "t": "61.8"}]},
"mark": {"type": "text", "fontSize": 8, "color": "#e8202a", "align": "right", "baseline": "middle"},
"encoding": {"x": {"datum": 328.4}, "y": {"field": "p", "type": "quantitative", "title": null}, "text": {"field": "t"}}
},
{
"data": {"values": [{"t": "▼ EURUSD.H1  1.3207 1.3211 1.3198 1.3198"}]},
"mark": {"type": "text", "fontSize": 7.5, "color": "#000000", "align": "left", "baseline": "middle"},
"encoding": {"x": {"datum": 0.3}, "y": {"datum": 1.34464}, "text": {"field": "t"}}
},
{
"data": {"values": [{"p": 1.3201}]},
"mark": {"type": "tick", "orient": "horizontal", "size": 29, "thickness": 11, "color": "#ff4a10", "opacity": 1},
"encoding": {"x": {"datum": 335.1}, "y": {"field": "p", "type": "quantitative", "title": null}}
},
{
"data": {"values": [{"p": 1.3428}]},
"mark": {"type": "tick", "orient": "horizontal", "size": 29, "thickness": 11, "color": "#3c5a5a", "opacity": 1},
"encoding": {"x": {"datum": 335.1}, "y": {"field": "p", "type": "quantitative", "title": null}}
},
{
"data": {"values": [{"p": 1.3296}]},
"mark": {"type": "tick", "orient": "horizontal", "size": 29, "thickness": 11, "color": "#e0334f", "opacity": 1},
"encoding": {"x": {"datum": 335.1}, "y": {"field": "p", "type": "quantitative", "title": null}}
},
{
"data": {"values": [{"p": 1.3282}]},
"mark": {"type": "tick", "orient": "horizontal", "size": 29, "thickness": 11, "color": "#8b0a0a", "opacity": 1},
"encoding": {"x": {"datum": 335.1}, "y": {"field": "p", "type": "quantitative", "title": null}}
},
{
"data": {"values": [{"p": 1.3335}, {"p": 1.3241}, {"p": 1.3217}, {"p": 1.3178}, {"p": 1.3152}]},
"mark": {"type": "tick", "orient": "horizontal", "size": 29, "thickness": 11, "color": "#000000", "opacity": 1},
"encoding": {"x": {"datum": 335.1}, "y": {"field": "p", "type": "quantitative", "title": null}}
},
{
"data": {"values": [{"p": 1.3428, "t": "1.3428"}, {"p": 1.3296, "t": "1.3296"}, {"p": 1.3282, "t": "1.3282"}, {"p": 1.3335, "t": "1.3335"}, {"p": 1.3241, "t": "1.3241"}, {"p": 1.3217, "t": "1.3217"}, {"p": 1.3178, "t": "1.3178"}, {"p": 1.3152, "t": "1.3152"}]},
"mark": {"type": "text", "fontSize": 7.5, "color": "#ffffff", "align": "center", "baseline": "middle"},
"encoding": {"x": {"datum": 335.1}, "y": {"field": "p", "type": "quantitative", "title": null}, "text": {"field": "t"}}
},
{
"data": {"values": [{"p": 1.3213}, {"p": 1.3198}]},
"mark": {"type": "tick", "orient": "horizontal", "size": 29, "thickness": 11, "color": "#000000", "opacity": 1},
"encoding": {"x": {"datum": 335.1}, "y": {"field": "p", "type": "quantitative", "title": null}}
},
{
"data": {"values": [{"p": 1.3213, "t": "1.3213"}, {"p": 1.3198, "t": "1.3198"}]},
"mark": {"type": "text", "fontSize": 7.5, "color": "#ffffff", "align": "center", "baseline": "middle"},
"encoding": {"x": {"datum": 335.1}, "y": {"field": "p", "type": "quantitative", "title": null}, "text": {"field": "t"}}
}
]
}
